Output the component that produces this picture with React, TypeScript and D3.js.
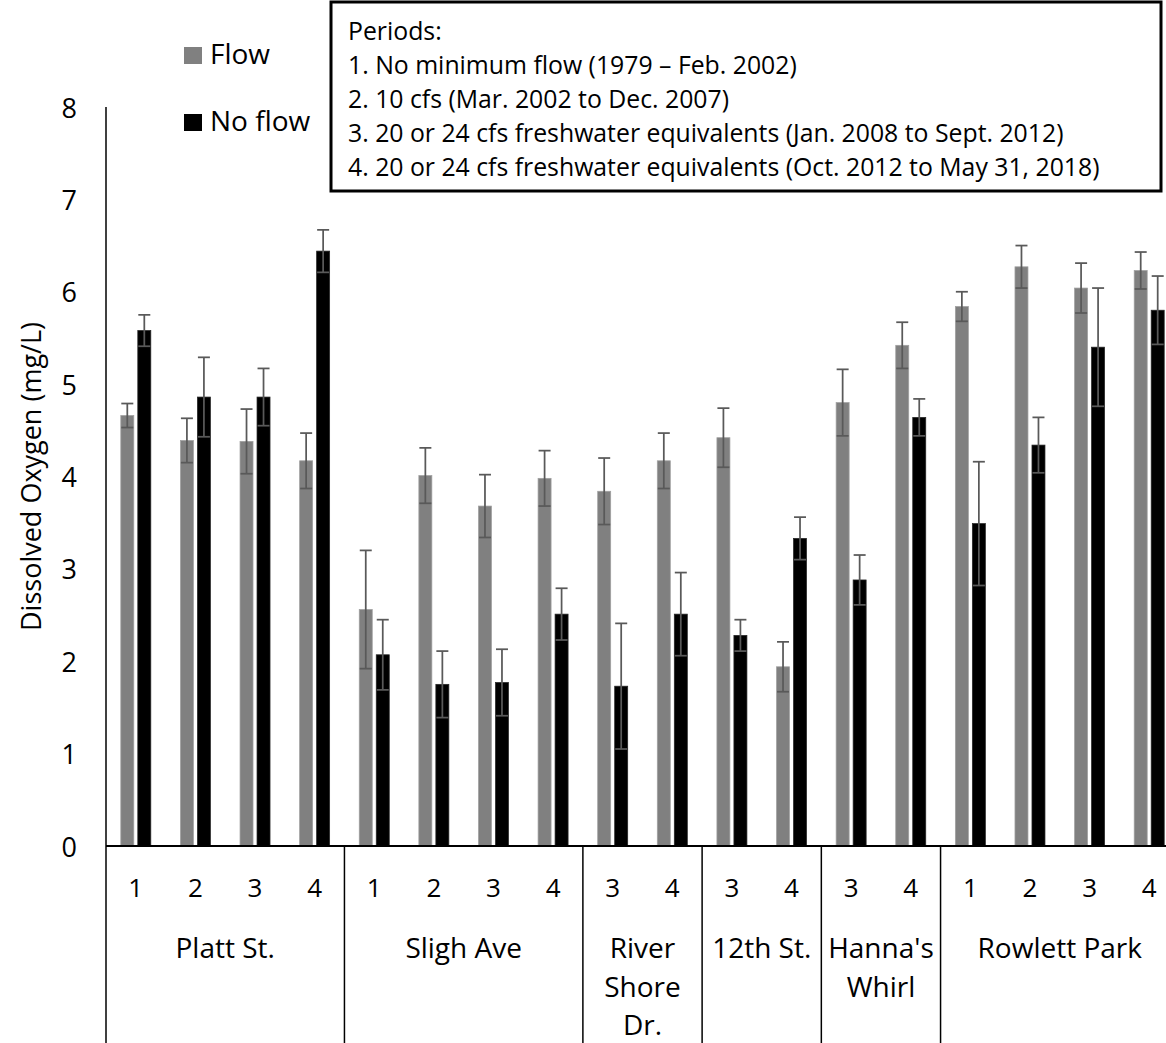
import * as d3 from 'd3'

// sites and the periods sampled at each
const siteLines = [['Platt St.'], ['Sligh Ave'], ['River', 'Shore', 'Dr.'], ['12th St.'], ["Hanna's", 'Whirl'], ['Rowlett Park']]
const sitePeriods = [[1, 2, 3, 4], [1, 2, 3, 4], [3, 4], [3, 4], [3, 4], [1, 2, 3, 4]]

// mean DO (mg/L) and error, in category order
const flowMean = [4.66, 4.39, 4.38, 4.17, 2.56, 4.01, 3.68, 3.98, 3.84, 4.17, 4.42, 1.94, 4.8, 5.42, 5.84, 6.27, 6.04, 6.23]
const flowErr = [0.13, 0.24, 0.35, 0.3, 0.64, 0.3, 0.34, 0.3, 0.36, 0.3, 0.32, 0.27, 0.36, 0.25, 0.16, 0.23, 0.27, 0.2]
const noFlowMean = [5.58, 4.86, 4.86, 6.44, 2.07, 1.75, 1.77, 2.51, 1.73, 2.51, 2.28, 3.33, 2.88, 4.64, 3.49, 4.34, 5.4, 5.8]
const noFlowErr = [0.17, 0.43, 0.31, 0.23, 0.38, 0.36, 0.36, 0.28, 0.68, 0.45, 0.17, 0.23, 0.27, 0.2, 0.67, 0.3, 0.64, 0.37]

const yTicks = [0, 1, 2, 3, 4, 5, 6, 7, 8]

const notes = [
  'Periods:',
  '1. No minimum flow (1979 – Feb. 2002)',
  '2. 10 cfs (Mar. 2002 to Dec. 2007)',
  '3. 20 or 24 cfs freshwater equivalents (Jan. 2008 to Sept. 2012)',
  '4. 20 or 24 cfs freshwater equivalents (Oct. 2012 to May 31, 2018)',
]

const FONT = "'Open Sans', sans-serif"
const W = 1166
const H = 1043
const left = 106
const right = 1179
const top = 107
const base = 846

export default function App() {
  const cats = sitePeriods.flatMap((ps, si) => ps.map((p, j) => ({ site: si, period: p, key: `${si}-${j}` })))
  const x = d3.scaleBand().domain(cats.map((c) => c.key)).range([left, right]).padding(0)
  const y = d3.scaleLinear().domain([0, 8]).range([base, top])
  const barW = 13
  const gap = 2

  // group boundaries
  const starts: number[] = []
  let idx = 0
  sitePeriods.forEach((ps) => {
    starts.push(idx)
    idx += ps.length
  })
  const bounds = starts.map((s, i) => {
    const x0 = x(cats[s].key)!
    const endIdx = s + sitePeriods[i].length - 1
    const x1 = x(cats[endIdx].key)! + x.bandwidth()
    return [x0, x1]
  })

  const errBar = (cx: number, m: number, e: number, k: string) => (
    <g key={k} stroke="#595959" strokeWidth={1.75}>
      <line x1={cx} x2={cx} y1={y(m + e)} y2={y(m - e)} />
      <line x1={cx - 6} x2={cx + 6} y1={y(m + e)} y2={y(m + e)} />
      <line x1={cx - 6} x2={cx + 6} y1={y(m - e)} y2={y(m - e)} />
    </g>
  )

  return (
    <svg width={W} height={H} style={{ position: 'absolute', left: 0, top: 0, background: '#fff' }} fontFamily={FONT}>
      {/* bars */}
      {cats.map((c, i) => {
        const cx = x(c.key)! + x.bandwidth() / 2
        return (
          <g key={c.key}>
            <rect x={cx - gap - barW} y={y(flowMean[i])} width={barW} height={base - y(flowMean[i])} fill="#808080" stroke="#a0a0a0" strokeWidth={0.75} />
            <rect x={cx + gap} y={y(noFlowMean[i])} width={barW} height={base - y(noFlowMean[i])} fill="#000" stroke="#262626" strokeWidth={0.75} />
            {errBar(cx - gap - barW / 2, flowMean[i], flowErr[i], 'f')}
            {errBar(cx + gap + barW / 2, noFlowMean[i], noFlowErr[i], 'n')}
          </g>
        )
      })}

      {/* axes */}
      <line x1={left} x2={left} y1={top} y2={H} stroke="#000" strokeWidth={1.5} />
      <line x1={left} x2={right} y1={base} y2={base} stroke="#000" strokeWidth={2} />
      {bounds.slice(1).map(([x0], i) => (
        <line key={i} x1={x0} x2={x0} y1={base} y2={H} stroke="#000" strokeWidth={1.5} />
      ))}

      {yTicks.map((t) => (
        <text key={t} x={77} y={y(t)} textAnchor="end" dominantBaseline="central" fontSize={27} fill="#000">
          {t}
        </text>
      ))}

      <text transform={`translate(30,${(top + base) / 2}) rotate(-90)`} textAnchor="middle" dominantBaseline="central" fontSize={27} fill="#000">
        Dissolved Oxygen (mg/L)
      </text>

      {cats.map((c) => (
        <text key={c.key} x={x(c.key)! + x.bandwidth() / 2} y={897} textAnchor="middle" fontSize={26} fill="#000">
          {c.period}
        </text>
      ))}

      {siteLines.map((lines, i) => (
        <text key={i} textAnchor="middle" fontSize={28} fill="#000">
          {lines.map((ln, j) => (
            <tspan key={j} x={(bounds[i][0] + bounds[i][1]) / 2} y={958 + j * 38.5}>
              {ln}
            </tspan>
          ))}
        </text>
      ))}

      {/* series legend */}
      <rect x={184} y={47} width={18} height={17} fill="#808080" />
      <text x={210} y={64} fontSize={28} fill="#000">Flow</text>
      <rect x={184} y={114} width={18} height={17} fill="#000" />
      <text x={210} y={131} fontSize={28} fill="#000">No flow</text>

      {/* periods box */}
      <rect x={331} y={2} width={830} height={189} fill="#fff" stroke="#000" strokeWidth={3} />
      {notes.map((n, i) => (
        <text key={i} x={348} y={40 + i * 34} fontSize={24.8} fill="#000">
          {n}
        </text>
      ))}
    </svg>
  )
}
